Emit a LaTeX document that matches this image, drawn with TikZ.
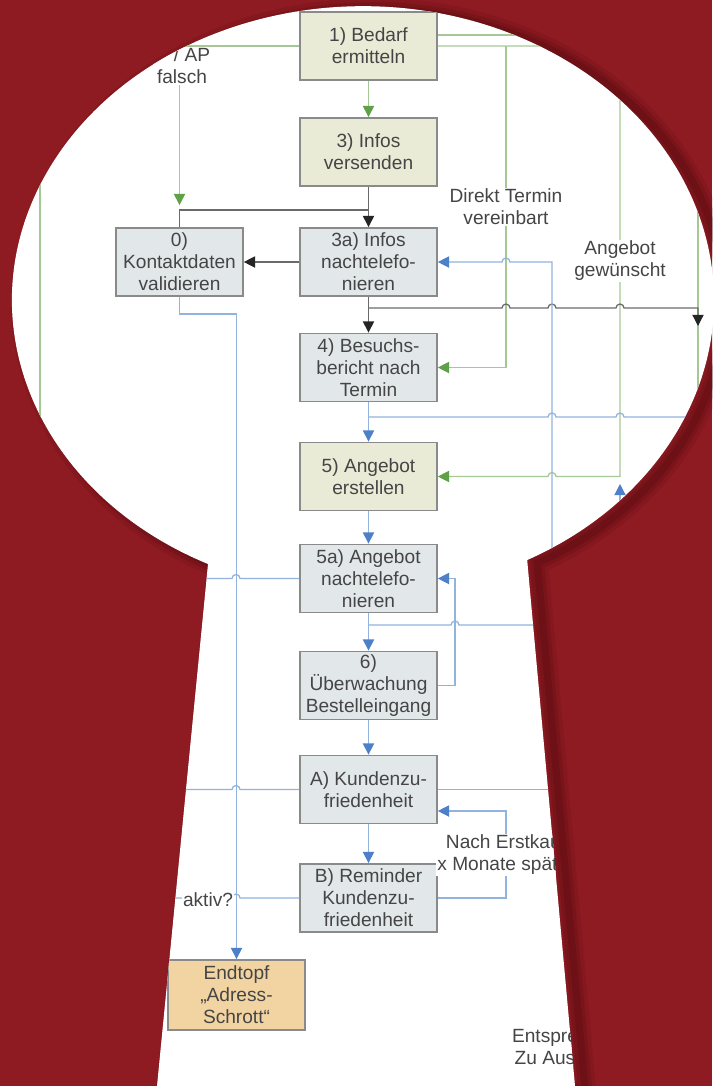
\documentclass[tikz,border=0pt]{standalone}
\usepackage{fontspec}
\setmainfont{Liberation Sans}
\usetikzlibrary{arrows.meta}
\definecolor{Crimson}{HTML}{8E1A22}
\definecolor{Shade}{HTML}{3A0508}
\definecolor{Ink}{HTML}{454545}
\definecolor{Frame}{HTML}{8A8A8A}
\definecolor{SoftGrey}{HTML}{E2E7EA}
\definecolor{SoftOlive}{HTML}{E9EBD6}
\definecolor{SoftTan}{HTML}{F2D4A2}
\definecolor{PaleGreen}{HTML}{A6C896}
\definecolor{Green}{HTML}{5FA048}
\definecolor{PaleBlue}{HTML}{93B3DF}
\definecolor{Blue}{HTML}{4D80C8}
\definecolor{Muted}{HTML}{6A6A6A}
\definecolor{Dark}{HTML}{252525}
\newcommand\flowfont{\fontsize{13.6}{15.6}\selectfont}

\begin{document}
\begin{tikzpicture}[
  x=0.025cm,y=-0.025cm,
  keyhole/.style={insert path={(208,564) arc[start angle=116.2,end angle=422.1,x radius=351,y radius=294] -- (575,1086) -- (157,1086) -- cycle}},
  box/.style={draw=Frame,line width=1.3pt,fill=SoftGrey,minimum width=3.42cm,minimum height=1.7cm,inner sep=0pt,align=center,font=\flowfont,text=Ink},
  plan/.style={box,fill=SoftOlive},
  topf/.style={box,fill=SoftTan,minimum height=1.75cm},
  note/.style={fill=white,inner sep=1pt,align=center,font=\flowfont,text=Ink},
  gline/.style={draw=PaleGreen,line width=0.9pt},
  bline/.style={draw=PaleBlue,line width=0.9pt},
  kline/.style={draw=Muted,line width=0.9pt},
  garrow/.style={gline,-{Triangle[length=0.28cm,width=0.28cm,color=Green]}},
  barrow/.style={bline,-{Triangle[length=0.28cm,width=0.28cm,color=Blue]}},
  karrow/.style={kline,-{Triangle[length=0.28cm,width=0.28cm,color=Dark]}},
  hop/.style={insert path={arc[start angle=180,end angle=360,radius=4]}},
  hopback/.style={insert path={arc[start angle=0,end angle=-180,radius=4]}}
]
\useasboundingbox (0,0) rectangle (712,1086);
\fill[Crimson] (0,0) rectangle (712,1086);
\foreach \w/\o in {0.55cm/0.10,0.35cm/0.14,0.18cm/0.20}
  \draw[Shade,line width=\w,opacity=\o,shift={(10,3)},keyhole];
\fill[white,keyhole];

\begin{scope}
\clip[keyhole];
\node[plan] (bedarf) at (368.5,46) {1) Bedarf\\ermitteln};
\node[plan] (infos) at (368.5,152) {3) Infos\\versenden};
\node[box,minimum width=3.17cm] (kontakt) at (179.5,262) {0)\\Kontaktdaten\\validieren};
\node[box] (nachinfo) at (368.5,262) {3a) Infos\\nachtelefo-\\nieren};
\node[box] (besuch) at (368.5,367.5) {4) Besuchs-\\bericht nach\\Termin};
\node[plan] (angebot) at (368.5,476.5) {5) Angebot\\erstellen};
\node[box] (nachang) at (368.5,578.5) {5a) Angebot\\nachtelefo-\\nieren};
\node[box] (bestell) at (368.5,685.5) {6)\\Überwachung\\Bestelleingang};
\node[box] (zufrieden) at (368.5,789.5) {A) Kundenzu-\\friedenheit};
\node[box] (reminder) at (368.5,898) {B) Reminder\\Kundenzu-\\friedenheit};
\node[topf] (endtopf) at (236.5,995) {Endtopf\\„Adress-\\Schrott“};
\coordinate (termin) at (506,46);
\coordinate (rechts) at (698,326);
\coordinate (unten) at (620,625);

\draw[garrow] (bedarf) -- (infos);
\draw[garrow,shorten >=0.55cm] (bedarf.west) -| (kontakt.north);
\draw[gline] (kontakt.north |- bedarf.west) -- (40,46) -- (40,640);
\draw[gline] (bedarf.east |- 0,35) -- (698,35) -- (698,640);
\draw[garrow] (termin) |- (besuch.east);
\draw[garrow] (bedarf.east) -- (620,46) -- (620,476.5) -- (556,476.5) [hopback] -- (angebot.east);

\draw[karrow] (infos) -- (nachinfo);
\draw[kline] (kontakt.north) |- (infos.south |- 0,210);
\draw[karrow] (nachinfo) -- (kontakt);
\draw[karrow] (nachinfo) -- (besuch);
\draw[karrow] (nachinfo.south |- 0,308) -- (502,308) [hop] -- (548,308) [hop] -- (616,308) [hop] -- (698,308) -- (rechts);

\draw[barrow] (552,720) -- (552,262) -- (510,262) [hopback] -- (nachinfo.east);
\draw[barrow] (besuch) -- (angebot);
\draw[bline] (besuch.south |- 0,417) -- (548,417) [hop] -- (616,417) [hop] -- (712,417);
\draw[barrow] (angebot) -- (nachang);
\draw[bline] (nachang.west) -- (240,578.5) [hopback] -- (150,578.5);
\draw[barrow] (nachang) -- (bestell);
\draw[bline] (nachang.south |- unten) -- (451,625) [hop] -- (712,625);
\draw[barrow] (unten) -- (620,484);
\draw[barrow] (bestell.east) -- (455,685.5) |- (nachang.east);
\draw[barrow] (bestell) -- (zufrieden);
\draw[bline] (zufrieden.west) -- (240,789.5) [hopback] -- (150,789.5);
\draw[bline] (zufrieden.east) -- (712,789.5);
\draw[barrow] (zufrieden) -- (reminder);
\draw[barrow] (reminder.east) -| (506,811) -- (zufrieden.east |- 0,811);
\draw[bline] (reminder.west) -- (240,898) [hopback] -- (150,898);
\draw[barrow] (kontakt.south) -- ++(0,17) -| (endtopf.north);

\node[note] (falsch) at (182,66) {\hspace*{0.5cm}/ AP\\falsch};
\node[note] (direkt) at (506,207) {Direkt Termin\\vereinbart};
\node[note] (wunsch) at (620,261) {Angebot\\gewünscht};
\node[note] (erstkauf) at (506,855) {Nach Erstkauf\\x Monate später};
\node[note] (aktiv) at (208,900) {aktiv?};
\node[note] (entspr) at (545,1047) {Entspre\\Zu Aus};
\end{scope}
\end{tikzpicture}
\end{document}
